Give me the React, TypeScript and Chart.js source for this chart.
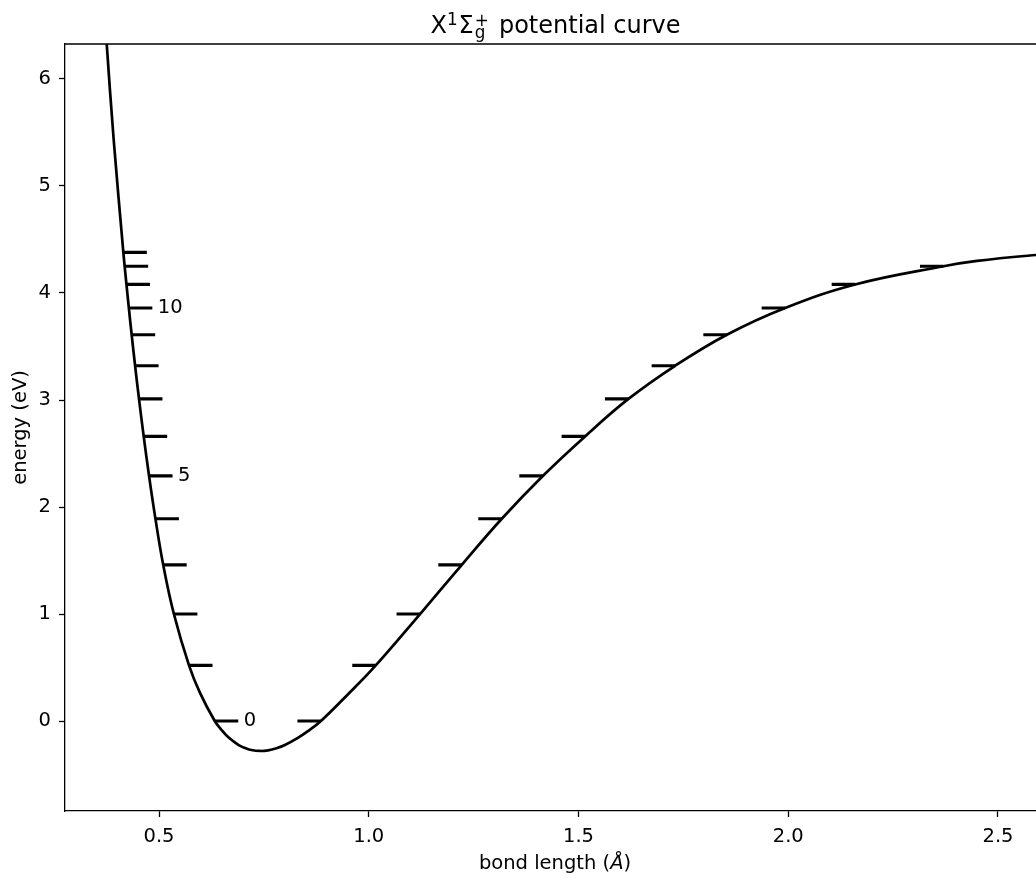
import React, { useEffect, useRef } from "react";
import { Chart, registerables } from "chart.js";

Chart.register(...registerables);

// Potential curve (bond length in Å, energy in eV)
const CURVE_R = [
  0.3707, 0.3753, 0.392, 0.415, 0.4181, 0.4224, 0.4281, 0.4348, 0.443, 0.4523,
  0.4635, 0.4763, 0.4915, 0.51, 0.5355, 0.5715, 0.598, 0.6329, 0.65, 0.666,
  0.69, 0.707, 0.72, 0.741, 0.76, 0.78, 0.80, 0.83, 0.855, 0.886,
  0.953, 1.0167, 1.1223, 1.2218, 1.3171, 1.4149, 1.5157, 1.619, 1.7303, 1.8536,
  1.9926, 2.1595, 2.37, 2.45, 2.59, 2.65,
];
const CURVE_E = [
  6.6, 6.33, 5.43, 4.38, 4.25, 4.08, 3.86, 3.61, 3.32, 3.01,
  2.66, 2.29, 1.89, 1.46, 1.0, 0.52, 0.26, 0.0, -0.088, -0.155,
  -0.225, -0.255, -0.271, -0.28, -0.274, -0.254, -0.224, -0.16, -0.095, 0.0,
  0.26, 0.52, 1.0, 1.46, 1.89, 2.29, 2.66, 3.01, 3.32, 3.61,
  3.86, 4.08, 4.25, 4.3, 4.355, 4.37,
];

// Vibrational levels v = 0..13 and their turning points
const LEVEL_E = [0.0, 0.52, 1.0, 1.46, 1.89, 2.29, 2.66, 3.01, 3.32, 3.61, 3.86, 4.08, 4.25, 4.38];
const LEVEL_LEFT = [0.6329, 0.5715, 0.5355, 0.51, 0.4915, 0.4763, 0.4635, 0.4523, 0.443, 0.4348, 0.4281, 0.4224, 0.4181, 0.415];
const LEVEL_RIGHT = [0.886, 1.0167, 1.1223, 1.2218, 1.3171, 1.4149, 1.5157, 1.619, 1.7303, 1.8536, 1.9926, 2.1595, 2.37, 2.7];
const LABELED_LEVELS = [0, 5, 10];

const X_TICKS = [0.5, 1.0, 1.5, 2.0, 2.5];
const Y_TICKS = [0, 1, 2, 3, 4, 5, 6];
const X_MIN = 0.2759;
const X_MAX = 2.6216;
const Y_MIN = -0.841;
const Y_MAX = 6.327;

const MARK_WIDTH = 0.056;
const FONT = '"DejaVu Sans", sans-serif';
const FS = 19.5;

export default function App() {
  const canvasRef = useRef<HTMLCanvasElement | null>(null);

  useEffect(() => {
    const canvas = canvasRef.current;
    if (!canvas) return;

    const curve = CURVE_R.map((r, i) => ({ x: r, y: CURVE_E[i] }));
    const marks: { x: number; y: number | null }[] = [];
    LEVEL_E.forEach((e, i) => {
      const l = LEVEL_LEFT[i];
      const r = LEVEL_RIGHT[i];
      marks.push({ x: l, y: e }, { x: l + MARK_WIDTH, y: e }, { x: l + MARK_WIDTH, y: null });
      marks.push({ x: r - MARK_WIDTH, y: e }, { x: r, y: e }, { x: r, y: null });
    });

    const decor = {
      id: "decor",
      afterDraw(chart: any) {
        const { ctx, chartArea, scales } = chart;
        const xs = scales.x;
        const ys = scales.y;
        ctx.save();
        // top & right spines
        ctx.strokeStyle = "#000";
        ctx.lineWidth = 1.3;
        ctx.beginPath();
        ctx.moveTo(chartArea.left, chartArea.top);
        ctx.lineTo(chartArea.right, chartArea.top);
        ctx.lineTo(chartArea.right, chartArea.bottom);
        ctx.stroke();

        // level labels
        ctx.fillStyle = "#000";
        ctx.font = `${FS}px ${FONT}`;
        ctx.textAlign = "left";
        ctx.textBaseline = "middle";
        LABELED_LEVELS.forEach((v) => {
          const px = xs.getPixelForValue(LEVEL_LEFT[v] + MARK_WIDTH) + 5.5;
          const py = ys.getPixelForValue(LEVEL_E[v]);
          ctx.fillText(String(v), px, py);
        });

        // x axis title with italic Å
        ctx.textBaseline = "alphabetic";
        const cx = (chartArea.left + chartArea.right) / 2;
        const xParts = [
          { t: "bond length (", f: `${FS}px ${FONT}` },
          { t: "Å", f: `italic ${FS}px ${FONT}` },
          { t: ")", f: `${FS}px ${FONT}` },
        ];
        let tw = 0;
        xParts.forEach((p) => {
          ctx.font = p.f;
          tw += ctx.measureText(p.t).width;
        });
        let xx = cx - tw / 2 - 2;
        xParts.forEach((p) => {
          ctx.font = p.f;
          ctx.fillText(p.t, xx, 869);
          xx += ctx.measureText(p.t).width;
        });

        // chart title  X^1 Σ_g^+ potential curve
        const S = 24;
        const s = S * 0.7;
        const big = `${S}px ${FONT}`;
        const small = `${s}px ${FONT}`;
        const base = 33;
        ctx.font = big;
        const wX = ctx.measureText("X").width;
        const wSig = ctx.measureText("Σ").width;
        const wRest = ctx.measureText(" potential curve").width;
        ctx.font = small;
        const w1 = ctx.measureText("1").width;
        const wPlus = ctx.measureText("+").width;
        const wg = ctx.measureText("g").width;
        const wScr = Math.max(wPlus, wg);
        const gap1 = 1, gap2 = 1, gap3 = 2.5;
        const total = wX + w1 + gap1 + wSig + gap2 + wScr + gap3 + wRest;
        let tx = cx - total / 2 - 1.5;
        ctx.font = big;
        ctx.fillText("X", tx, base);
        tx += wX;
        ctx.font = small;
        ctx.fillText("1", tx, base - 8);
        tx += w1 + gap1;
        ctx.font = big;
        ctx.fillText("Σ", tx, base);
        tx += wSig + gap2;
        ctx.font = small;
        ctx.fillText("+", tx, base - 7);
        ctx.fillText("g", tx, base + 4.5);
        tx += wScr + gap3;
        ctx.font = big;
        ctx.fillText(" potential curve", tx, base);
        ctx.restore();
      },
    };

    const tickFont = { family: FONT, size: FS };

    const chart = new Chart(canvas, {
      type: "scatter",
      data: {
        datasets: [
          {
            data: curve,
            showLine: true,
            borderColor: "#000",
            borderWidth: 2.7,
            pointRadius: 0,
            tension: 0.4,
            clip: 0,
          } as any,
          {
            data: marks,
            showLine: true,
            spanGaps: false,
            borderColor: "#000",
            borderWidth: 3.2,
            pointRadius: 0,
            tension: 0,
            clip: 0,
          } as any,
        ],
      },
      options: {
        animation: false,
        responsive: false,
        devicePixelRatio: 1,
        layout: { padding: { top: 44, left: 0, right: 1, bottom: 0 } },
        plugins: {
          legend: { display: false },
          tooltip: { enabled: false },
          title: { display: false },
        },
        scales: {
          x: {
            type: "linear",
            min: X_MIN,
            max: X_MAX,
            afterBuildTicks: (sc: any) => {
              sc.ticks = X_TICKS.map((v) => ({ value: v }));
            },
            afterFit: (sc: any) => {
              sc.height = 68;
            },
            ticks: {
              callback: (v: any) => Number(v).toFixed(1),
              color: "#000",
              font: tickFont,
              padding: 8,
              maxRotation: 0,
              autoSkip: false,
            },
            grid: {
              display: true,
              drawOnChartArea: false,
              drawTicks: true,
              tickLength: 6,
              tickWidth: 1.3,
              tickColor: "#000",
            },
            border: { display: true, color: "#000", width: 1.3 },
          },
          y: {
            type: "linear",
            min: Y_MIN,
            max: Y_MAX,
            afterBuildTicks: (sc: any) => {
              sc.ticks = Y_TICKS.map((v) => ({ value: v }));
            },
            afterFit: (sc: any) => {
              sc.width = 65;
            },
            ticks: {
              callback: (v: any) => String(v),
              color: "#000",
              font: tickFont,
              padding: 8,
              autoSkip: false,
            },
            grid: {
              display: true,
              drawOnChartArea: false,
              drawTicks: true,
              tickLength: 6,
              tickWidth: 1.3,
              tickColor: "#000",
            },
            border: { display: true, color: "#000", width: 1.3 },
            title: {
              display: true,
              text: "energy (eV)",
              color: "#000",
              font: { family: FONT, size: FS },
              padding: { top: 9, bottom: 0 },
            },
          },
        },
      },
      plugins: [decor],
    } as any);

    return () => {
      chart.destroy();
    };
  }, []);

  return (
    <div
      style={{
        position: "absolute",
        left: 0,
        top: 0,
        width: 1036,
        height: 879,
        overflow: "hidden",
        background: "#fff",
      }}
    >
      <canvas ref={canvasRef} width={1050} height={879} style={{ display: "block" }} />
    </div>
  );
}
